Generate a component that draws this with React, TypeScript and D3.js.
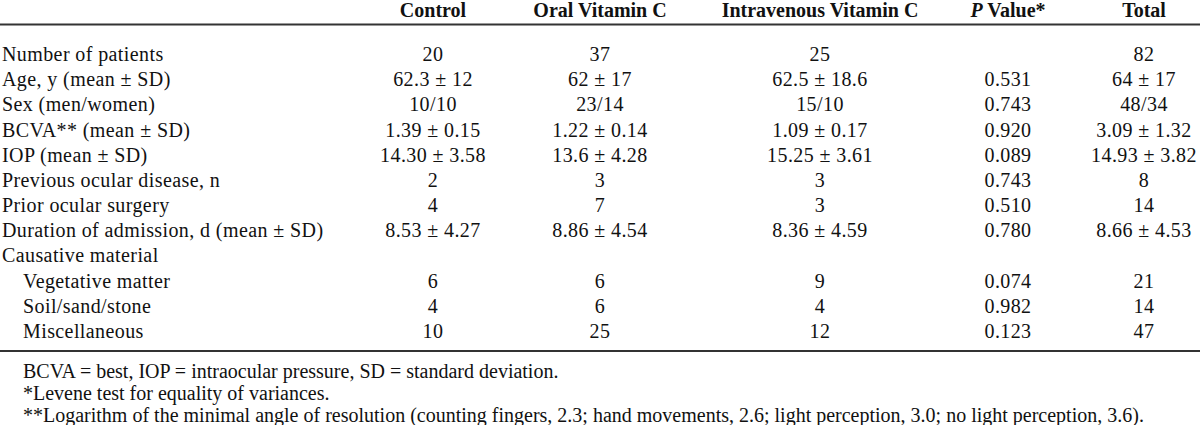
import React from "react";
import * as d3 from "d3";

const columns = ["Control", "Oral Vitamin C", "Intravenous Vitamin C", "P Value*", "Total"];

const rowLabels = [
  "Number of patients",
  "Age, y (mean ± SD)",
  "Sex (men/women)",
  "BCVA** (mean ± SD)",
  "IOP (mean ± SD)",
  "Previous ocular disease, n",
  "Prior ocular surgery",
  "Duration of admission, d (mean ± SD)",
  "Causative material",
  "Vegetative matter",
  "Soil/sand/stone",
  "Miscellaneous",
];
const rowIndent = [false, false, false, false, false, false, false, false, false, true, true, true];

const controlVals = ["20", "62.3 ± 12", "10/10", "1.39 ± 0.15", "14.30 ± 3.58", "2", "4", "8.53 ± 4.27", "", "6", "4", "10"];
const oralVals = ["37", "62 ± 17", "23/14", "1.22 ± 0.14", "13.6 ± 4.28", "3", "7", "8.86 ± 4.54", "", "6", "6", "25"];
const ivVals = ["25", "62.5 ± 18.6", "15/10", "1.09 ± 0.17", "15.25 ± 3.61", "3", "3", "8.36 ± 4.59", "", "9", "4", "12"];
const pVals = ["", "0.531", "0.743", "0.920", "0.089", "0.743", "0.510", "0.780", "", "0.074", "0.982", "0.123"];
const totalVals = ["82", "64 ± 17", "48/34", "3.09 ± 1.32", "14.93 ± 3.82", "8", "14", "8.66 ± 4.53", "", "21", "14", "47"];

const footnotes = [
  "BCVA = best, IOP = intraocular pressure, SD = standard deviation.",
  "*Levene test for equality of variances.",
  "**Logarithm of the minimal angle of resolution (counting fingers, 2.3; hand movements, 2.6; light perception, 3.0; no light perception, 3.6).",
];

const W = 1200;
const H = 425;
const FONT = "'Liberation Serif', 'Times New Roman', serif";

export default function App() {
  const seriesCols = [controlVals, oralVals, ivVals, pVals, totalVals];
  const xCol = d3.scaleOrdinal<string, number>().domain(columns).range([433, 600, 820, 1008, 1144]);
  const yRow = d3.scaleLinear().domain([0, rowLabels.length - 1]).range([61, 338]);
  const yFoot = d3.scaleLinear().domain([0, footnotes.length - 1]).range([378, 422]);

  return (
    <svg width={W} height={H} style={{ position: "absolute", left: 0, top: 0, background: "#fff" }} fontFamily={FONT}>
      <rect x={0} y={0} width={W} height={H} fill="#fff" />
      {columns.map((c) => (
        <text key={c} x={xCol(c)} y={17} textAnchor="middle" fontSize={20} fontWeight="bold" fill="#111">
          {c === "P Value*" ? (
            <>
              <tspan fontStyle="italic">P</tspan>
              <tspan> Value*</tspan>
            </>
          ) : (
            c
          )}
        </text>
      ))}
      <line x1={0} x2={W} y1={24.5} y2={24.5} stroke="#333" strokeWidth={2} />
      {rowLabels.map((r, i) => (
        <text key={r} x={rowIndent[i] ? 23 : 2} y={yRow(i)} fontSize={20} fill="#111" letterSpacing={0.4}>
          {r}
        </text>
      ))}
      {seriesCols.map((vals, ci) =>
        vals.map((v, i) =>
          v ? (
            <text key={ci + "-" + i} x={xCol(columns[ci])} y={yRow(i)} textAnchor="middle" fontSize={20} fill="#111" letterSpacing={0.4}>
              {v}
            </text>
          ) : null
        )
      )}
      <line x1={0} x2={W} y1={351} y2={351} stroke="#333" strokeWidth={2} />
      {footnotes.map((f, i) => (
        <text key={i} x={23} y={yFoot(i)} fontSize={20} fill="#111">
          {f}
        </text>
      ))}
    </svg>
  );
}
